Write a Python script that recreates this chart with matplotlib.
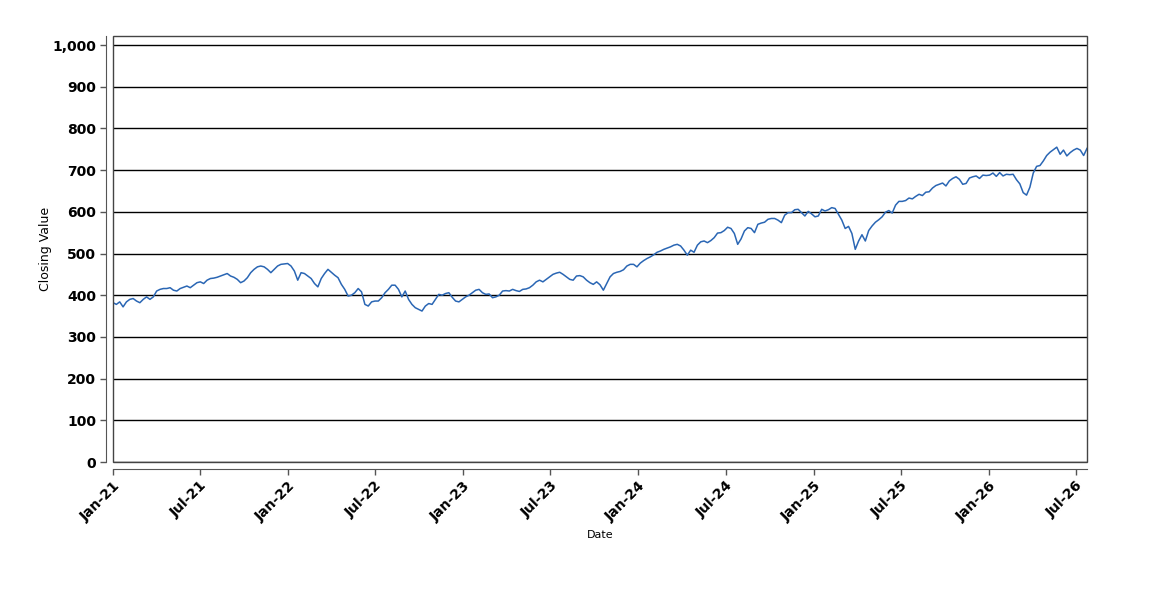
import pandas as pd
import matplotlib
matplotlib.use("Agg")
import matplotlib.pyplot as plt
import matplotlib.dates as mdates
from matplotlib.patches import Rectangle
from matplotlib.ticker import FuncFormatter

# weekly closing values
close = [
    382, 378, 384, 372, 384, 390, 392, 386, 382, 390, 396, 390, 396, 410, 414, 416,
    416, 418, 412, 410, 416, 419, 422, 418, 424, 430, 432, 428, 436, 440, 441, 443,
    446, 449, 452, 446, 443, 438, 430, 434, 442, 454, 462, 468, 470, 468, 462, 454,
    462, 470, 474, 475, 476, 470, 458, 436, 454, 452, 446, 440, 428, 420, 440, 452,
    462, 455, 448, 442, 426, 414, 398, 400, 406, 416, 408, 378, 374, 384, 386, 386,
    394, 406, 414, 424, 424, 414, 396, 410, 390, 378, 370, 366, 362, 374, 380, 378,
    390, 402, 400, 404, 406, 395, 386, 384, 390, 396, 400, 406, 412, 414, 406, 402,
    403, 394, 396, 400, 410, 411, 410, 414, 411, 409, 414, 415, 418, 424, 432, 436,
    432, 438, 444, 450, 453, 455, 450, 444, 438, 436, 446, 447, 444, 436, 430, 426,
    432, 425, 412, 428, 444, 452, 455, 457, 461, 470, 474, 474, 468, 477, 483, 488,
    492, 497, 503, 506, 510, 513, 516, 520, 522, 518, 508, 496, 508, 503, 520, 528,
    530, 526, 531, 538, 549, 550, 555, 563, 560, 548, 522, 535, 554, 562, 560, 550,
    570, 573, 575, 582, 584, 584, 580, 574, 592, 598, 598, 605, 606, 598, 590, 601,
    595, 588, 590, 606, 602, 605, 610, 608, 594, 580, 560, 565, 548, 510, 530, 545,
    530, 555, 566, 575, 581, 588, 599, 603, 597, 616, 625, 625, 627, 633, 631, 637,
    642, 639, 647, 648, 657, 663, 666, 669, 662, 674, 680, 684, 678, 666, 668, 681,
    684, 686, 680, 688, 687, 688, 693, 685, 694, 686, 690, 689, 690, 677, 667, 646,
    640, 659, 693, 709, 711, 722, 735, 743, 749, 755, 738, 748, 734, 742, 748, 752,
    748, 735, 752,
]
dates = pd.date_range("2021-01-01", periods=len(close), freq="7D")

y_ticks = list(range(0, 1001, 100))

fig = plt.figure(figsize=(11.5, 6), dpi=100)
ax = fig.add_axes([113 / 1150, 138 / 600, 974 / 1150, 426 / 600])

ax.plot(dates, close, color="#2a66b4", lw=1.1)

ax.set_xlim(dates[0], dates[-1])
ax.set_ylim(0, 1021.6)
ax.set_yticks(y_ticks)
ax.yaxis.set_major_formatter(FuncFormatter(lambda v, p: f"{int(v):,}"))
ax.yaxis.grid(True, color="black", lw=1)
ax.set_axisbelow(True)

ax.xaxis.set_major_locator(mdates.MonthLocator(bymonth=[1, 7]))
ax.xaxis.set_major_formatter(mdates.DateFormatter("%b-%y"))

# axis lines sit a little outside the plot box
for side in ["left", "bottom"]:
    ax.spines[side].set_position(("outward", 5))
    ax.spines[side].set_color("#555555")
for side in ["top", "right"]:
    ax.spines[side].set_visible(False)
ax.add_patch(Rectangle((0, 0), 1, 1, transform=ax.transAxes, fill=False,
                       ec="#444444", lw=1, clip_on=False, zorder=3))

ax.tick_params(axis="both", length=4, width=1, color="#555555",
               labelsize=10, pad=3)
for lbl in ax.get_yticklabels():
    lbl.set_fontweight("bold")
for lbl in ax.get_xticklabels():
    lbl.set_rotation(45)
    lbl.set_ha("right")
    lbl.set_rotation_mode("anchor")
    lbl.set_fontweight("bold")

fig.text(45 / 1150, 1 - 249 / 600, "Closing Value", rotation=90,
         ha="center", va="center", fontsize=9)
fig.text(600 / 1150, 1 - 535 / 600, "Date", ha="center", va="center",
         fontsize=8)

fig.savefig("out.png", dpi=100)
